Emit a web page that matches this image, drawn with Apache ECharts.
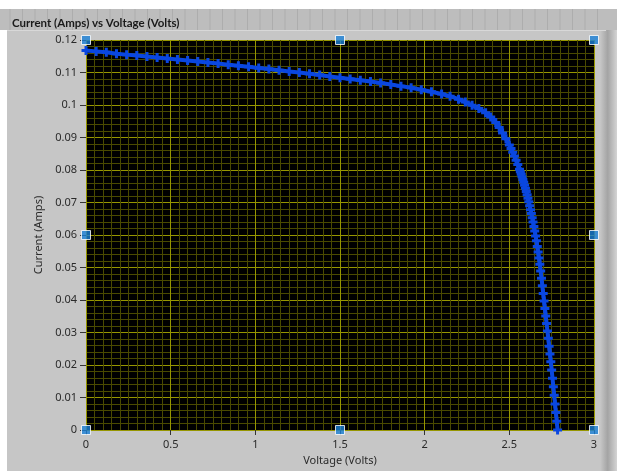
<!DOCTYPE html>
<html>
<head>
<meta charset="utf-8">
<script src="https://cdn.jsdelivr.net/npm/echarts@6/dist/echarts.min.js"></script>
<style>
  html, body { margin: 0; padding: 0; background: #ffffff; }
  #main { width: 617px; height: 471px; }
</style>
</head>
<body>
<div id="main"></div>
<script>
var voltage = [
    0.00, 0.06, 0.12, 0.18, 0.24, 0.30, 0.36, 0.42, 0.48, 0.54,
    0.60, 0.66, 0.72, 0.78, 0.84, 0.90, 0.96, 1.02, 1.08, 1.14,
    1.20, 1.26, 1.32, 1.38, 1.44, 1.50, 1.56, 1.62, 1.68, 1.74,
    1.80, 1.86, 1.92, 1.98, 2.04, 2.10, 2.15, 2.20, 2.24, 2.28,
    2.32, 2.36, 2.39, 2.42, 2.44, 2.46, 2.48, 2.50, 2.51, 2.52,
    2.53, 2.54, 2.55, 2.56, 2.565, 2.57, 2.575, 2.58, 2.585, 2.59,
    2.595, 2.60, 2.605, 2.61, 2.615, 2.62, 2.625, 2.63, 2.635, 2.64,
    2.645, 2.65, 2.655, 2.66, 2.665, 2.67, 2.675, 2.68, 2.685, 2.69,
    2.695, 2.70, 2.705, 2.71, 2.715, 2.72, 2.725, 2.73, 2.735, 2.74,
    2.745, 2.75, 2.755, 2.76, 2.765, 2.77, 2.775, 2.78, 2.785
];
var current = [
    0.1168, 0.1165, 0.1162, 0.1158, 0.1155, 0.1152, 0.1149, 0.1146, 0.1143, 0.1140,
    0.1137, 0.1134, 0.1131, 0.1128, 0.1124, 0.1121, 0.1118, 0.1114, 0.1111, 0.1107,
    0.1103, 0.1100, 0.1096, 0.1092, 0.1088, 0.1084, 0.1080, 0.1076, 0.1072, 0.1068,
    0.1063, 0.1058, 0.1053, 0.1047, 0.1041, 0.1034, 0.1027, 0.1018, 0.1009, 0.0999,
    0.0989, 0.0976, 0.0963, 0.0946, 0.0931, 0.0914, 0.0896, 0.0877, 0.0866, 0.0855,
    0.0843, 0.0830, 0.0817, 0.0802, 0.0795, 0.0787, 0.0779, 0.0771, 0.0762, 0.0753,
    0.0744, 0.0734, 0.0724, 0.0713, 0.0702, 0.0690, 0.0678, 0.0666, 0.0653, 0.0640,
    0.0626, 0.0612, 0.0597, 0.0582, 0.0565, 0.0548, 0.0529, 0.0510, 0.0489, 0.0467,
    0.0444, 0.0420, 0.0397, 0.0374, 0.0351, 0.0328, 0.0305, 0.0282, 0.0258, 0.0234,
    0.0210, 0.0185, 0.0159, 0.0133, 0.0107, 0.0080, 0.0054, 0.0027, 0.0000
];
// scale handles drawn by the graph at corners / mid edges
var handleX = [0, 1.5, 3, 0, 3, 0, 1.5, 3];
var handleY = [0.12, 0.12, 0.12, 0.06, 0.06, 0, 0, 0];

var xMin = 0, xMax = 3, xStep = 0.5;
var yMin = 0, yMax = 0.12, yStep = 0.01;

var curve = voltage.map(function(v, i) { return [v, current[i]]; });
var handles = handleX.map(function(v, i) { return [v, handleY[i]]; });

var chart = echarts.init(document.getElementById('main'), null, { renderer: 'canvas' });

// panel grid lines in the caption strip
var panelLines = [];
for (var gx = 10; gx < 600; gx += 12.5) {
    panelLines.push({
        type: 'line', silent: true, z: -9,
        shape: { x1: gx, y1: 9, x2: gx, y2: 30 },
        style: { stroke: '#adadad', lineWidth: 1 }
    });
}

var font = '"Noto Sans", "Open Sans", sans-serif';
var plus = 'path://M2,0H4V2H6V4H4V6H2V4H0V2H2Z';

var option = {
    backgroundColor: '#ffffff',
    animation: false,
    title: {
        text: 'Current (Amps) vs Voltage (Volts)',
        left: 7,
        top: 12,
        textStyle: { fontFamily: 'Lato, "Noto Sans", sans-serif', fontSize: 11.5, fontWeight: 'bold', color: '#1a1a1a' }
    },
    graphic: [
        { type: 'rect', silent: true, z: -10, shape: { x: 0, y: 9, width: 617, height: 21 }, style: { fill: '#bdbdbd' } },
        { type: 'rect', silent: true, z: -10, shape: { x: 7, y: 30, width: 600, height: 441 }, style: { fill: '#c6c6c6' } },
        { type: 'line', silent: true, z: -8, shape: { x1: 7, y1: 30.5, x2: 606, y2: 30.5 }, style: { stroke: '#d8d8d8', lineWidth: 1 } },
        {
            type: 'rect', silent: true, z: -9,
            shape: { x: 600, y: 30, width: 17, height: 441 },
            style: {
                fill: new echarts.graphic.LinearGradient(0, 0, 1, 0, [
                    { offset: 0, color: '#c8c8c8' },
                    { offset: 0.45, color: '#a4a4a4' },
                    { offset: 1, color: '#d4d4d4' }
                ])
            }
        }
    ].concat(panelLines),
    grid: { left: 86, right: 23, top: 40, bottom: 39, show: true, backgroundColor: '#000000', borderWidth: 0 },
    xAxis: {
        type: 'value',
        min: xMin, max: xMax, interval: xStep,
        name: 'Voltage (Volts)',
        nameLocation: 'middle',
        nameGap: 25,
        nameTextStyle: { fontFamily: font, fontSize: 11, color: '#2a2a2a' },
        axisLine: { show: false },
        axisTick: { show: true, length: 5, lineStyle: { color: '#333333' } },
        axisLabel: { fontFamily: font, fontSize: 11, color: '#2a2a2a', margin: 9 },
        splitLine: { show: true, lineStyle: { color: '#969600', width: 1 } },
        minorTick: { show: false, splitNumber: 10 },
        minorSplitLine: { show: true, lineStyle: { color: '#4a4a00', width: 1 } }
    },
    yAxis: {
        type: 'value',
        min: yMin, max: yMax, interval: yStep,
        name: 'Current (Amps)',
        nameLocation: 'middle',
        nameGap: 42,
        nameTextStyle: { fontFamily: font, fontSize: 11, color: '#2a2a2a' },
        axisLine: { show: false },
        axisTick: { show: true, length: 6, lineStyle: { color: '#333333' } },
        axisLabel: {
            fontFamily: font, fontSize: 11, color: '#2a2a2a', margin: 9,
            formatter: function(v) { return String(parseFloat(v.toFixed(2))); }
        },
        splitLine: { show: true, lineStyle: { color: '#969600', width: 1 } },
        minorTick: { show: false, splitNumber: 5 },
        minorSplitLine: { show: true, lineStyle: { color: '#4a4a00', width: 1 } }
    },
    series: [
        {
            type: 'line',
            data: curve,
            lineStyle: { color: '#0a47e0', width: 4 },
            itemStyle: { color: '#0a47e0' },
            symbol: plus,
            symbolSize: 9,
            showAllSymbol: true,
            clip: false,
            z: 3
        },
        {
            type: 'scatter',
            data: handles,
            symbol: 'rect',
            symbolSize: 9,
            itemStyle: { color: '#1a7fd6', borderColor: '#ffffff', borderWidth: 1 },
            clip: false,
            z: 5
        }
    ]
};

chart.setOption(option);
window.addEventListener('resize', function() {
    chart.resize();
});
</script>
</body>
</html>
